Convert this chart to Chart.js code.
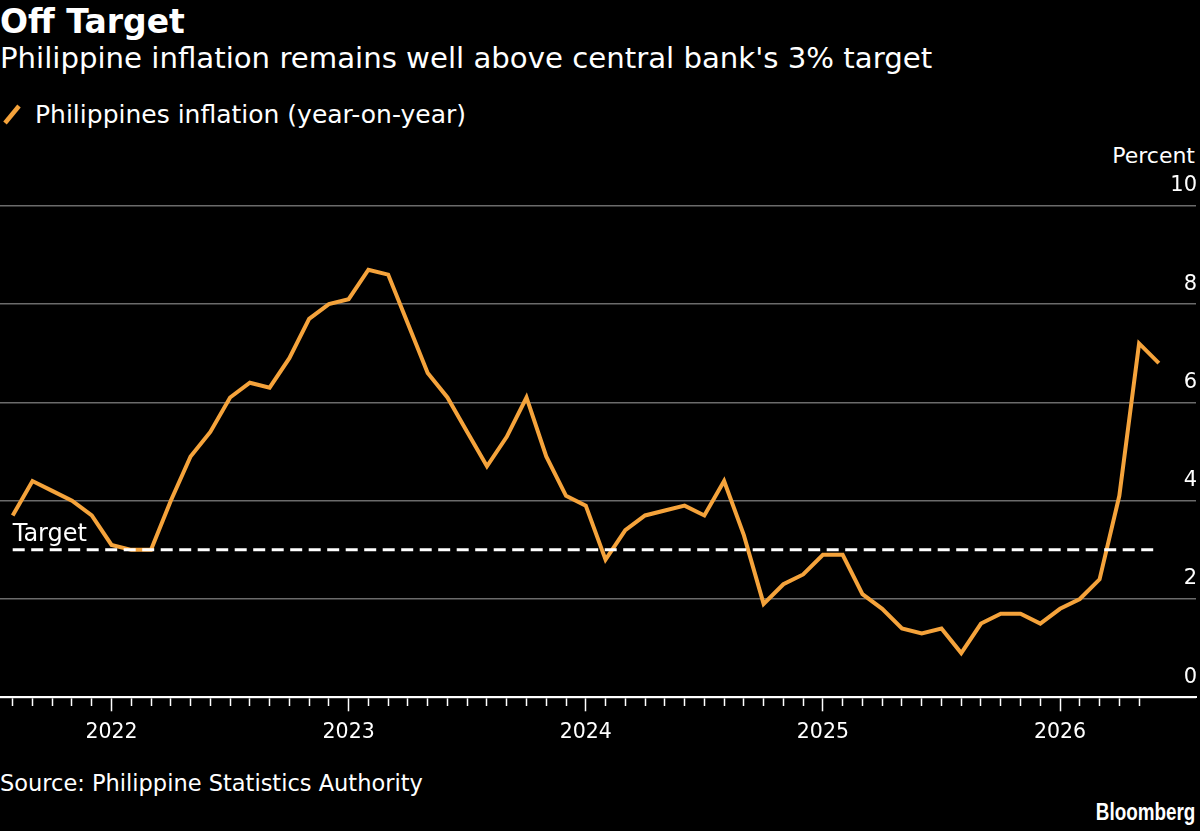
<!DOCTYPE html>
<html>
<head>
<meta charset="utf-8">
<title>Off Target</title>
<script src="https://cdn.jsdelivr.net/npm/chart.js@4.4.1/dist/chart.umd.min.js"></script>
<style>
    html, body { margin: 0; padding: 0; background: #000; }
    body { width: 1200px; height: 831px; position: relative; overflow: hidden;
           font-family: "DejaVu Sans", sans-serif; color: #fff; }
    .txt { position: absolute; white-space: nowrap; line-height: 1; }
    #title { left: 0; top: 5px; font-size: 33px; font-weight: bold; }
    #subtitle { left: 0; top: 44px; font-size: 29.2px; }
    #legend { left: 35px; top: 102px; font-size: 25px; }
    #legend-icon { position: absolute; left: 2px; top: 103px; width: 20px; height: 22px; }
    #unit { right: 5px; top: 145px; font-size: 22px; }
    #source { left: 0; top: 772px; font-size: 22.5px; }
    #logo { right: 5px; top: 801px; font-size: 23px; font-weight: bold;
            font-family: "Liberation Sans", sans-serif;
            transform: scaleX(0.82); transform-origin: right center; }
    #chart-wrap { position: absolute; left: 0; top: 140px; width: 1200px; height: 620px; }
</style>
</head>
<body>
<div class="txt" id="title">Off Target</div>
<div class="txt" id="subtitle">Philippine inflation remains well above central bank's 3% target</div>
<svg id="legend-icon" viewBox="0 0 20 22"><line x1="3" y1="20" x2="17" y2="3" stroke="#f5a33b" stroke-width="4.5"/></svg>
<div class="txt" id="legend">Philippines inflation (year-on-year)</div>
<div class="txt" id="unit">Percent</div>
<div class="txt" id="source">Source: Philippine Statistics Authority</div>
<div class="txt" id="logo">Bloomberg</div>
<div id="chart-wrap"><canvas id="grafico"></canvas></div>

<script>
// meses de la serie (Aug 2021 - Jun 2026)
var months = [
    '2021-08', '2021-09', '2021-10', '2021-11', '2021-12',
    '2022-01', '2022-02', '2022-03', '2022-04', '2022-05', '2022-06',
    '2022-07', '2022-08', '2022-09', '2022-10', '2022-11', '2022-12',
    '2023-01', '2023-02', '2023-03', '2023-04', '2023-05', '2023-06',
    '2023-07', '2023-08', '2023-09', '2023-10', '2023-11', '2023-12',
    '2024-01', '2024-02', '2024-03', '2024-04', '2024-05', '2024-06',
    '2024-07', '2024-08', '2024-09', '2024-10', '2024-11', '2024-12',
    '2025-01', '2025-02', '2025-03', '2025-04', '2025-05', '2025-06',
    '2025-07', '2025-08', '2025-09', '2025-10', '2025-11', '2025-12',
    '2026-01', '2026-02', '2026-03', '2026-04', '2026-05', '2026-06'
];

// inflacion interanual, %
var inflation = [
    3.7, 4.4, 4.2, 4.0, 3.7,
    3.1, 3.0, 3.0, 4.0, 4.9, 5.4, 6.1, 6.4, 6.3, 6.9, 7.7, 8.0,
    8.1, 8.7, 8.6, 7.6, 6.6, 6.1, 5.4, 4.7, 5.3, 6.1, 4.9, 4.1,
    3.9, 2.8, 3.4, 3.7, 3.8, 3.9, 3.7, 4.4, 3.3, 1.9, 2.3, 2.5,
    2.9, 2.9, 2.1, 1.8, 1.4, 1.3, 1.4, 0.9, 1.5, 1.7, 1.7, 1.5,
    1.8, 2.0, 2.4, 4.1, 7.2, 6.8
];

var target = 3;
var yTicks = [0, 2, 4, 6, 8, 10];

var orange = '#f5a33b';
var font = '"DejaVu Sans", sans-serif';

var isJanuary = function (i) {
    return months[i] !== undefined && months[i].slice(5) === '01';
};

var seriesPoints = inflation.map(function (v, i) { return { x: i, y: v }; });
var targetPoints = [{ x: 0, y: target }, { x: months.length - 1, y: target }];

// etiqueta "Target" sobre la linea discontinua
var targetLabel = {
    id: 'targetLabel',
    afterDatasetsDraw: function (chart) {
        var ctx = chart.ctx;
        var x = chart.scales.x.getPixelForValue(0);
        var y = chart.scales.y.getPixelForValue(target);
        ctx.save();
        ctx.font = '24px ' + font;
        ctx.fillStyle = '#fff';
        ctx.textAlign = 'left';
        ctx.textBaseline = 'alphabetic';
        ctx.fillText('Target', x, y - 9);
        ctx.restore();
    }
};

new Chart(document.getElementById('grafico').getContext('2d'), {
    type: 'line',
    data: {
        datasets: [{
            label: 'Target',
            data: targetPoints,
            borderColor: '#fff',
            borderWidth: 3,
            borderDash: [12, 6.5],
            pointRadius: 0
        }, {
            label: 'Philippines inflation (year-on-year)',
            data: seriesPoints,
            borderColor: orange,
            borderWidth: 4,
            tension: 0,
            pointRadius: 0
        }]
    },
    options: {
        responsive: true,
        maintainAspectRatio: false,
        animation: false,
        layout: { padding: { top: 65.8, left: 0, right: 4, bottom: 0 } },
        plugins: {
            legend: { display: false },
            tooltip: { enabled: false }
        },
        scales: {
            x: {
                type: 'linear',
                min: -0.643,
                max: 59.88,
                afterBuildTicks: function (scale) {
                    scale.ticks = months.slice(0, months.length - 1).map(function (m, i) {
                        return { value: i };
                    });
                },
                afterFit: function (scale) { scale.height = 62.7; },
                grid: {
                    drawOnChartArea: false,
                    drawTicks: true,
                    tickLength: 14,
                    tickWidth: 1.5,
                    tickColor: '#fff',
                    tickBorderDash: function (c) {
                        return isJanuary(c.tick && c.tick.value) ? [] : [8, 30];
                    }
                },
                border: { display: true, color: '#fff', width: 2 },
                ticks: {
                    autoSkip: false,
                    maxRotation: 0,
                    padding: 9,
                    color: '#fff',
                    font: { family: font, size: 20.5 },
                    callback: function (value) {
                        return isJanuary(value) ? months[value].slice(0, 4) : '';
                    }
                }
            },
            y: {
                position: 'right',
                min: 0,
                max: 10,
                afterBuildTicks: function (scale) {
                    scale.ticks = yTicks.map(function (v) { return { value: v }; });
                },
                afterFit: function (scale) { scale.width = 0; },
                grid: { color: '#6b6b6b', lineWidth: 1.5, drawTicks: false },
                border: { display: false },
                ticks: {
                    mirror: true,
                    padding: 1,
                    labelOffset: -20,
                    color: '#fff',
                    font: { family: font, size: 21 }
                }
            }
        }
    },
    plugins: [targetLabel]
});
</script>
</body>
</html>
